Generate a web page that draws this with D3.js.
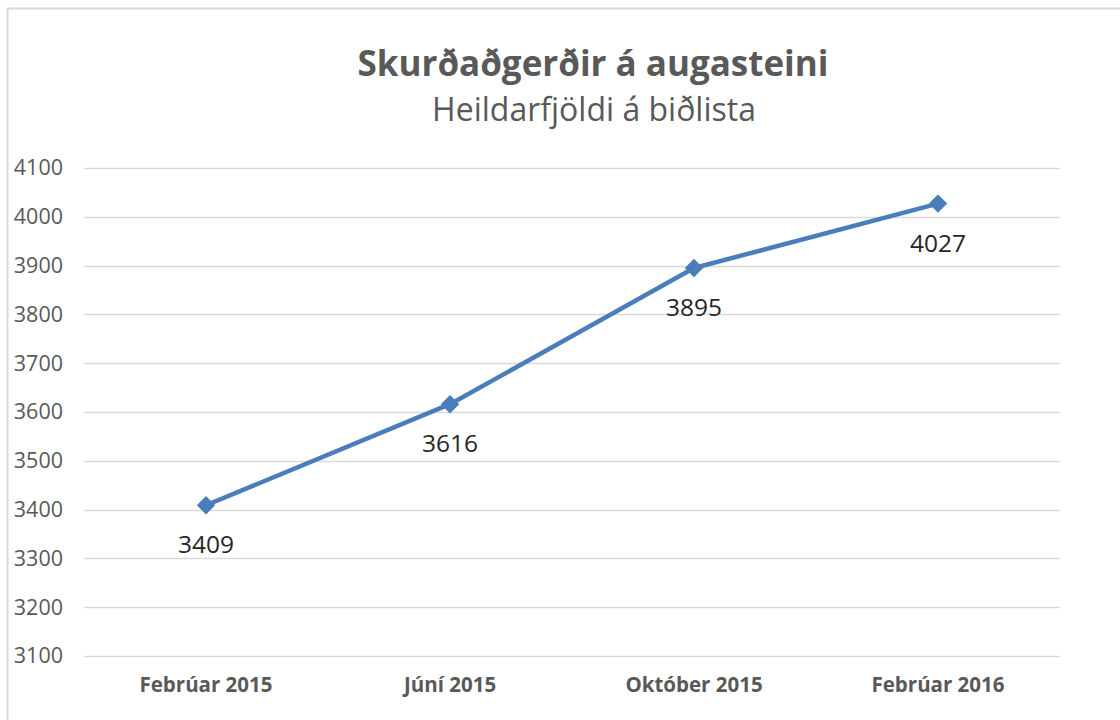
<!DOCTYPE html>
<html>
<head>
<meta charset="utf-8">
<script src="https://cdn.jsdelivr.net/npm/d3@7"></script>
<style>
  body { margin: 0; background: #fff; }
  svg { display: block; }
</style>
</head>
<body>
<svg id="chart" width="1120" height="720"></svg>
<script>
const categories = ["Febrúar 2015", "Júní 2015", "Október 2015", "Febrúar 2016"];
const values = [3409, 3616, 3895, 4027];
const yTicks = [3100, 3200, 3300, 3400, 3500, 3600, 3700, 3800, 3900, 4000, 4100];
const title = "Skurðaðgerðir á augasteini";
const subtitle = "Heildarfjöldi á biðlista";

const svg = d3.select("#chart");
const font = "'Open Sans', sans-serif";
const margin = { left: 84, right: 60, top: 168, bottom: 64 };
const width = 1120, height = 720;

// chart frame
svg.append("rect")
    .attr("x", 7.5).attr("y", 8.5)
    .attr("width", 1130).attr("height", 730)
    .attr("fill", "none")
    .attr("stroke", "#d9d9d9")
    .attr("stroke-width", 2);

const x = d3.scaleBand()
    .domain(categories)
    .range([margin.left, width - margin.right])
    .padding(0);

const y = d3.scaleLinear()
    .domain([3100, 4100])
    .range([height - margin.bottom, margin.top]);

// gridlines
svg.append("g")
    .selectAll("line")
    .data(yTicks)
    .join("line")
    .attr("x1", margin.left)
    .attr("x2", width - margin.right)
    .attr("y1", d => Math.round(y(d)) + 0.5)
    .attr("y2", d => Math.round(y(d)) + 0.5)
    .attr("stroke", "#d9d9d9")
    .attr("stroke-width", 1.3);

// y axis labels
const yAxis = svg.append("g")
    .attr("transform", `translate(63,0)`)
    .call(d3.axisLeft(y).tickValues(yTicks).tickFormat(d3.format("d")).tickSize(0).tickPadding(0));
yAxis.select(".domain").remove();
yAxis.selectAll("text")
    .style("font", `21.5px ${font}`)
    .attr("fill", "#595959");

// x axis labels
const xAxis = svg.append("g")
    .attr("transform", `translate(0,${height - margin.bottom})`)
    .call(d3.axisBottom(x).tickSize(0).tickPadding(21));
xAxis.select(".domain").remove();
xAxis.selectAll("text")
    .style("font", `bold 20.5px ${font}`)
    .attr("fill", "#595959");

// line
const cx = d => x(d) + x.bandwidth() / 2;
const line = d3.line()
    .x((d, i) => cx(categories[i]))
    .y(d => y(d));

svg.append("path")
    .datum(values)
    .attr("fill", "none")
    .attr("stroke", "#4a7ebb")
    .attr("stroke-width", 4.5)
    .attr("stroke-linejoin", "round")
    .attr("d", line);

svg.append("g")
    .selectAll("path")
    .data(values)
    .join("path")
    .attr("d", d3.symbol(d3.symbolSquare, 170))
    .attr("transform", (d, i) => `translate(${cx(categories[i])},${y(d)}) rotate(45)`)
    .attr("fill", "#4a7ebb");

// data labels
svg.append("g")
    .selectAll("text")
    .data(values)
    .join("text")
    .attr("x", (d, i) => cx(categories[i]))
    .attr("y", d => y(d) + 48)
    .attr("text-anchor", "middle")
    .style("font", `24.5px ${font}`)
    .attr("fill", "#262626")
    .text(d => d);

// titles
svg.append("text")
    .attr("x", 593).attr("y", 76)
    .attr("text-anchor", "middle")
    .style("font", `bold 35px ${font}`)
    .attr("fill", "#595959")
    .text(title);

svg.append("text")
    .attr("x", 594).attr("y", 121)
    .attr("text-anchor", "middle")
    .style("font", `32px ${font}`)
    .attr("fill", "#595959")
    .text(subtitle);
</script>
</body>
</html>
